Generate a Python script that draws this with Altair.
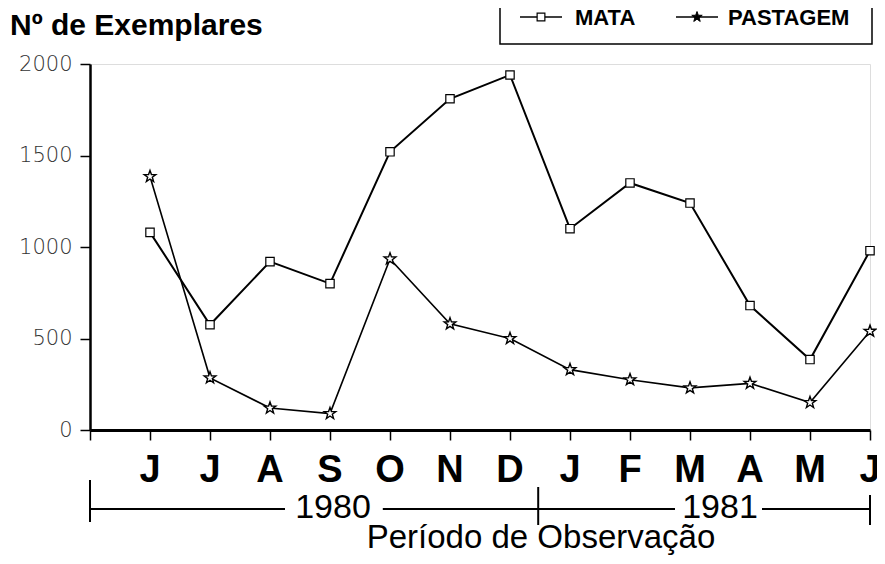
import altair as alt
import pandas as pd

months = ["J", "J", "A", "S", "O", "N", "D", "J", "F", "M", "A", "M", "J"]
positions = list(range(1, 14))
mata = [1080, 575, 920, 800, 1520, 1810, 1940, 1100, 1350, 1240, 680, 385, 980]
pastagem = [1385, 285, 120, 90, 935, 580, 500, 330, 275, 230, 255, 150, 540]
series_names = ["MATA", "PASTAGEM"]
year_labels = ["1980", "1981"]
year_centers = [4.05, 10.5]
year_line_start = [0, 4.88, 11.2]
year_line_end = [3.25, 9.75, 13]
y_ticks = [0, 500, 1000, 1500, 2000]
x_ticks = list(range(0, 14))

STAR = ("M0,-1L0.235,-0.324L0.951,-0.309L0.380,0.124L0.588,0.809L0,0.4"
        "L-0.588,0.809L-0.380,0.124L-0.951,-0.309L-0.235,-0.324Z")

mata_df = pd.DataFrame({"pos": positions, "v": mata, "m": months})
past_df = pd.DataFrame({"pos": positions, "v": pastagem})

xs = alt.Scale(domain=[0, 13], nice=False, zero=False)
ys = alt.Scale(domain=[0, 2000], nice=False)

x_axis = alt.Axis(values=x_ticks, labels=False, title=None, grid=False,
                  tickSize=10, tickWidth=1.5, tickColor="black",
                  domainWidth=3, domainColor="black")
y_axis = alt.Axis(values=y_ticks, format="d", title=None, grid=False, tickSize=10,
                  tickWidth=1.5, tickColor="black", domainWidth=2.5,
                  domainColor="black", labelFont="DejaVu Sans",
                  labelFontWeight=200, labelFontSize=21, labelPadding=8,
                  labelColor="#333")

base_x = alt.X("pos:Q", scale=xs, axis=x_axis)
base_y = alt.Y("v:Q", scale=ys, axis=y_axis)

mata_line = alt.Chart(mata_df).mark_line(color="black", strokeWidth=2).encode(x=base_x, y=base_y)
past_line = alt.Chart(past_df).mark_line(color="black", strokeWidth=1.6).encode(
    x=alt.X("pos:Q", scale=xs), y=alt.Y("v:Q", scale=ys))
mata_pts = alt.Chart(mata_df).mark_point(shape="square", size=70, filled=True, fill="white",
                                         stroke="black", strokeWidth=1.2, opacity=1).encode(
    x=alt.X("pos:Q", scale=xs), y=alt.Y("v:Q", scale=ys))
past_pts = alt.Chart(past_df).mark_point(shape=STAR, size=150, filled=True, fill="white",
                                         stroke="black", strokeWidth=1.4, opacity=1).encode(
    x=alt.X("pos:Q", scale=xs), y=alt.Y("v:Q", scale=ys))

month_text = alt.Chart(mata_df).mark_text(font="Liberation Sans", fontWeight="bold",
                                          fontSize=38, baseline="alphabetic", align="center",
                                          color="black").encode(
    x=alt.X("pos:Q", scale=xs), y=alt.value(418), text="m:N")

seg_df = pd.DataFrame({"a": year_line_start, "b": year_line_end})
year_lines = alt.Chart(seg_df).mark_rule(color="black", strokeWidth=2).encode(
    x=alt.X("a:Q", scale=xs), x2="b:Q", y=alt.value(445))

tick_left = alt.Chart(pd.DataFrame({"p": [0]})).mark_rule(color="black", strokeWidth=2).encode(
    x=alt.X("p:Q", scale=xs), y=alt.value(416), y2=alt.value(458))
tick_mid = alt.Chart(pd.DataFrame({"p": [7.47]})).mark_rule(color="black", strokeWidth=2).encode(
    x=alt.X("p:Q", scale=xs), y=alt.value(423), y2=alt.value(461))
tick_right = alt.Chart(pd.DataFrame({"p": [13]})).mark_rule(color="black", strokeWidth=2).encode(
    x=alt.X("p:Q", scale=xs), y=alt.value(431), y2=alt.value(461))

year_df = pd.DataFrame({"p": year_centers, "t": year_labels})
year_text = alt.Chart(year_df).mark_text(font="Liberation Sans", fontSize=34, baseline="middle",
                                         align="center", color="black").encode(
    x=alt.X("p:Q", scale=xs), y=alt.value(444), text="t:N")

xtitle = alt.Chart(pd.DataFrame({"t": ["Período de Observação"]})).mark_text(
    font="Liberation Sans", fontSize=33, baseline="alphabetic", align="center", color="black").encode(
    x=alt.value(451), y=alt.value(484), text="t:N")

ytitle = alt.Chart(pd.DataFrame({"t": ["Nº de Exemplares"]})).mark_text(
    font="Liberation Sans", fontWeight="bold", fontSize=30, baseline="alphabetic", align="left",
    color="black").encode(x=alt.value(-80), y=alt.value(-29), text="t:N")

# legend
leg_box = alt.Chart(pd.DataFrame({"k": [0]})).mark_rect(fill="white", stroke="black", strokeWidth=1.5).encode(
    x=alt.value(410), x2=alt.value(782), y=alt.value(-75), y2=alt.value(-20))
leg_line1 = alt.Chart(pd.DataFrame({"k": [0]})).mark_rule(color="black", strokeWidth=1.5).encode(
    x=alt.value(430), x2=alt.value(472), y=alt.value(-47))
leg_line2 = alt.Chart(pd.DataFrame({"k": [0]})).mark_rule(color="black", strokeWidth=1.5).encode(
    x=alt.value(586), x2=alt.value(628), y=alt.value(-47))
leg_sq = alt.Chart(pd.DataFrame({"k": [0]})).mark_point(shape="square", size=60, filled=True, fill="white",
                                                        stroke="black", strokeWidth=1.2, opacity=1).encode(
    x=alt.value(451), y=alt.value(-47))
leg_star = alt.Chart(pd.DataFrame({"k": [0]})).mark_point(shape=STAR, size=120, filled=True, fill="black",
                                                          stroke="black", strokeWidth=1, opacity=1).encode(
    x=alt.value(607), y=alt.value(-47))
leg_text = alt.Chart(pd.DataFrame({"t": series_names, "xp": [485, 638]})).mark_text(
    font="Liberation Sans", fontWeight="bold", fontSize=22, baseline="alphabetic", align="left",
    color="black").encode(x=alt.X("xp:Q", scale=None), y=alt.value(-39), text="t:N")

chart = alt.layer(
    mata_line, past_line, mata_pts, past_pts, month_text, year_lines, tick_left, tick_mid,
    tick_right, year_text, xtitle, ytitle, leg_box, leg_line1, leg_line2, leg_sq, leg_star, leg_text
).properties(
    width=780, height=366,
    autosize=alt.AutoSizeParams(type="none"),
    padding={"left": 82, "top": 56, "right": 7, "bottom": 126},
).configure_view(stroke=None).configure(background="white")

chart.save("out.html", embed_options={"renderer": "svg", "actions": False})
